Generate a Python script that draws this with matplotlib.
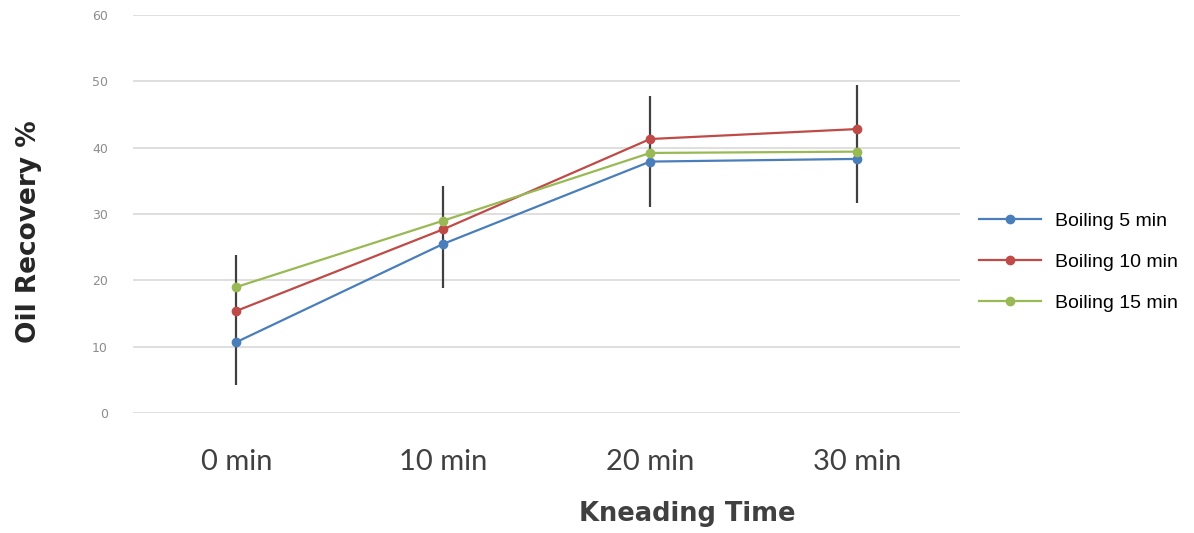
import matplotlib
matplotlib.use("Agg")
import matplotlib.pyplot as plt
import numpy as np

# Data
categories = ["0 min", "10 min", "20 min", "30 min"]
boil_5 = [10.7, 25.5, 37.9, 38.3]
boil_10 = [15.4, 27.7, 41.3, 42.8]
boil_15 = [19.0, 29.0, 39.2, 39.4]
err_low = [4.2, 18.8, 31.1, 31.7]
err_high = [23.8, 34.2, 47.8, 49.5]
series_names = ["Boiling 5 min", "Boiling 10 min", "Boiling 15 min"]
colors = ["#4a7ebb", "#be4b48", "#98b954"]

fig = plt.figure(figsize=(11.94, 5.33), dpi=100)
ax = fig.add_axes([0.1114, 0.225, 0.693, 0.747])

x = np.arange(len(categories))

# Error bars drawn first so the lines sit on top
ax.vlines(x, err_low, err_high, color="#404040", lw=1.6, zorder=2)

for vals, name, c in zip([boil_5, boil_10, boil_15], series_names, colors):
    ax.plot(x, vals, color=c, lw=1.6, marker="o", ms=6, label=name, zorder=3)

ax.set_xlim(-0.5, len(categories) - 0.5)
ax.set_ylim(0, 60)
ax.set_yticks(range(0, 61, 10))
ax.grid(axis="y", color="#d9d9d9", lw=1.2)
ax.set_axisbelow(True)
for s in ax.spines.values():
    s.set_visible(False)
ax.tick_params(axis="both", length=0)
ax.tick_params(axis="y", labelsize=9, labelcolor="#8c8c8c", pad=18)
ax.set_xticks(x)
ax.set_xticklabels(categories, fontsize=21, color="#404040", family="Lato")
ax.tick_params(axis="x", pad=26)

ax.set_ylabel("Oil Recovery %", fontsize=19, fontweight="bold", color="#262626")
ax.yaxis.set_label_coords(-0.11, 0.455)
ax.set_xlabel("Kneading Time", fontsize=18.5, fontweight="bold", color="#404040")
ax.xaxis.set_label_coords(0.67, -0.222)

fig.legend(loc="center left", bbox_to_anchor=(0.805, 0.508), frameon=False,
           prop={"family": "Liberation Sans", "size": 14}, labelspacing=1.2,
           handlelength=3.2, handletextpad=0.7)

fig.savefig("out.png", dpi=100)
